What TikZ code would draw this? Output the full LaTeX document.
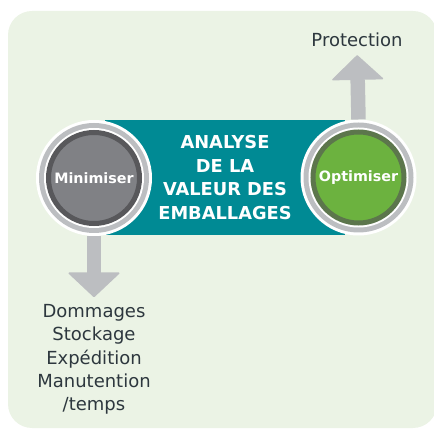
\documentclass[tikz,border=0pt]{standalone}
\usepackage{fontspec}
\setmainfont{DejaVu Sans}
\usetikzlibrary{arrows.meta,positioning}
\pgfdeclarelayer{background}
\pgfsetlayers{background,main}
\definecolor{paleleaf}{RGB}{235,243,229}
\definecolor{bandteal}{RGB}{0,138,148}
\definecolor{ringgray}{RGB}{188,190,193}
\definecolor{darkring}{RGB}{88,88,91}
\definecolor{midgray}{RGB}{128,129,133}
\definecolor{leafgreen}{RGB}{108,178,63}
\definecolor{greenring}{RGB}{92,118,76}
\definecolor{textdark}{RGB}{45,55,62}
\tikzstyle{band} = [fill=bandteal, text=white, minimum width=240pt, minimum height=115pt, align=center, font=\fontsize{17.8}{23.5}\selectfont\bfseries]
\tikzstyle{hub} = [circle, line width=5pt, minimum size=91pt, inner sep=0pt, outer sep=12.5pt, text=white, font=\fontsize{14.3}{16}\selectfont\bfseries]
\tikzstyle{minhub} = [hub, draw=darkring, fill=midgray]
\tikzstyle{opthub} = [hub, draw=greenring, fill=leafgreen]
\tikzstyle{outcome} = [text=textdark, align=center, inner sep=0pt, font=\fontsize{18}{23.3}\selectfont]
\tikzstyle{bigarrow} = [draw=ringgray, line width=14.5pt, -{Triangle[width=53pt,length=25pt,line width=1.5pt,round]}]
\newcommand{\hubrings}[1]{\fill[white] (#1) circle (58pt); \fill[ringgray] (#1) circle (55pt); \fill[white] (#1) circle (50pt);}

\begin{document}
\begin{tikzpicture}[x=1pt,y=-1pt]
\useasboundingbox (0,0) rectangle (434,430);
\begin{pgfonlayer}{background}
\fill[paleleaf, rounded corners=24pt] (8,11) rectangle (437,428);
\end{pgfonlayer}
\coordinate (cmin) at (94,178);
\coordinate (copt) at (358.5,177.5);
\node[band] (band) at (225,177.5) {ANALYSE\\DE LA\\VALEUR DES\\EMBALLAGES};
\hubrings{cmin}
\hubrings{copt}
\node[minhub] (mini) at (cmin) {Minimiser};
\node[opthub] (opti) at (copt) {Optimiser};

\node[outcome] (prot) at (357,40) {Protection};
\node[outcome, anchor=north] (dmg) at (94,304.2) {Dommages\\Stockage\\Expédition\\Manutention\\/temps};

\path [bigarrow, shorten >=7pt] (mini.south) -- (dmg.north);
\path [bigarrow, shorten >=8pt] (opti.north) -- (prot.south);
\end{tikzpicture}
\end{document}
